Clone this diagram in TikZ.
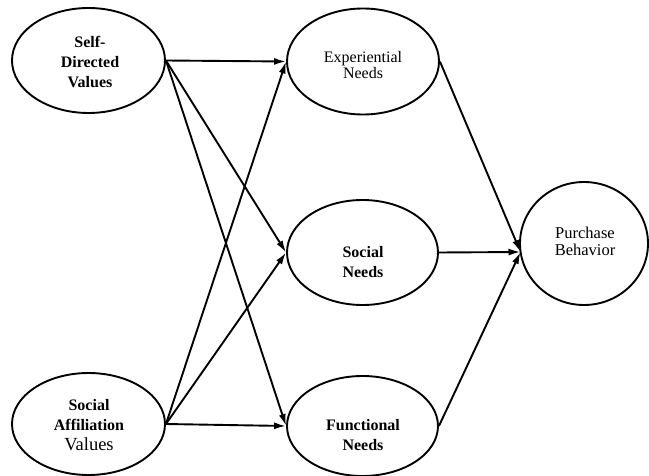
\documentclass[tikz,border=0pt]{standalone}
\usepackage{fontspec}
\setmainfont{Liberation Serif}
\usetikzlibrary{shapes.geometric,arrows.meta}
\tikzset{
  oval/.style={draw, ellipse, line width=1.9pt, inner sep=0pt},
  lbl/.style={align=center, inner sep=0pt},
  boldlbl/.style={lbl, font=\fontsize{16}{20}\selectfont\bfseries},
  conn/.style={line width=1.9pt, -{Latex[length=12pt,width=7pt]}}
}
\begin{document}
\begin{tikzpicture}[x=1pt,y=-1pt]
\useasboundingbox (0,0) rectangle (649,476);
% ellipses
\node[oval, minimum width=153pt, minimum height=105pt] (sd) at (88.5,60.5) {};
\node[oval, minimum width=153pt, minimum height=102pt] (sa) at (88.5,424) {};
\node[oval, minimum width=152pt, minimum height=106pt] (ex) at (363,61.5) {};
\node[oval, minimum width=151pt, minimum height=105pt] (sn) at (362.5,252.5) {};
\node[oval, minimum width=151pt, minimum height=100pt] (fn) at (362.5,426) {};
\node[oval, minimum width=128pt, minimum height=123pt] (pb) at (584,243.5) {};
% labels
\node[boldlbl] (sdt) at (90,62) {Self-\\Directed\\Values};
\node[lbl, font=\fontsize{16}{20}\selectfont] (sat) at (89,425) {\textbf{Social}\\\textbf{Affiliation}\\{\fontsize{18.5}{20}\selectfont Values}};
\node[lbl, font=\fontsize{16}{16.5}\selectfont] (ext) at (363,65) {Experiential\\Needs};
\node[boldlbl] (snt) at (363,262) {Social\\Needs};
\node[boldlbl] (fnt) at (363,435) {Functional\\Needs};
\node[lbl, font=\fontsize{16.5}{17}\selectfont] (pbt) at (585,241) {Purchase\\Behavior};
% connector target on Purchase Behavior
\coordinate (pin) at (520.5,252);
% connectors
\draw[conn] (sd.east) -- (ex.west);
\draw[conn] (sd.east) -- (sn.west);
\draw[conn] (sd.east) -- (fn.west);
\draw[conn] (sa.east) -- (ex.west);
\draw[conn] (sa.east) -- (sn.west);
\draw[conn] (sa.east) -- (fn.west);
\draw[conn] (ex.east) -- (pin);
\draw[conn] (sn.east) -- (pin);
\draw[conn] (fn.east) -- (pin);
\end{tikzpicture}
\end{document}
